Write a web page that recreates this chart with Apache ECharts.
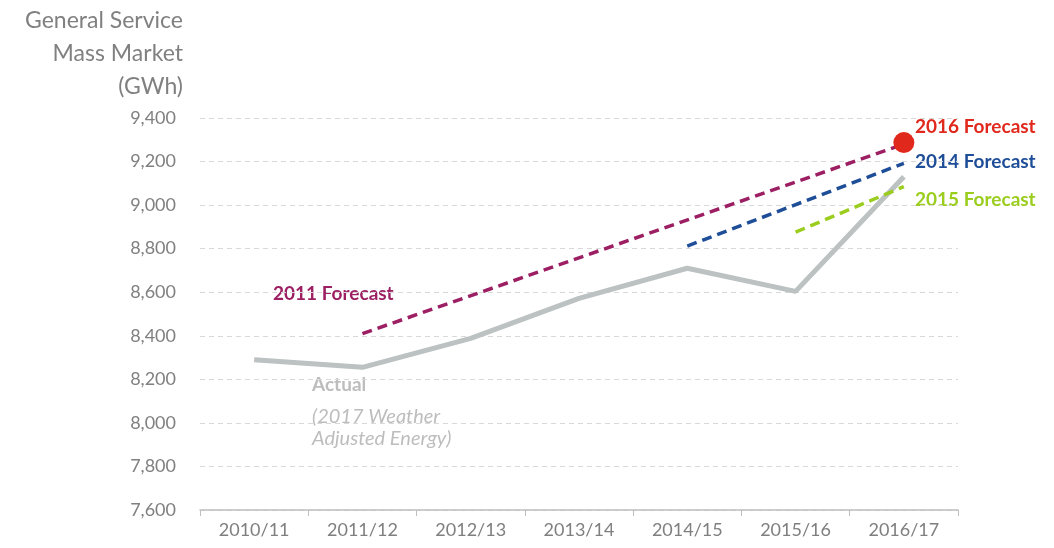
<!DOCTYPE html>
<html><head><meta charset="utf-8">
<script src="https://cdn.jsdelivr.net/npm/echarts@6/dist/echarts.min.js"></script>
<style>html,body{margin:0;padding:0;background:#fff}#c{width:1054px;height:548px}</style>
</head><body><div id="c"></div>
<script>
const categories = ['2010/11','2011/12','2012/13','2013/14','2014/15','2015/16','2016/17'];
const actual = [8290, 8255, 8388, 8572, 8710, 8604, 9130];
const forecast2011 = ['-', 8410, '-', '-', '-', '-', 9280];
const forecast2014 = ['-', '-', '-', '-', 8812, '-', 9192];
const forecast2015 = ['-', '-', '-', '-', '-', 8876, 9085];
const forecast2016 = ['-', '-', '-', '-', '-', '-', 9287];
const yTicks = {min: 7600, max: 9400, interval: 200};
const yTitle = ['General Service', 'Mass Market', '(GWh)'];

const FONT = 'Lato, "Open Sans", sans-serif';
const chart = echarts.init(document.getElementById('c'));
chart.setOption({
  animation: false,
  grid: {left: 200, right: 96, top: 118, bottom: 38},
  xAxis: {
    type: 'category', data: categories, boundaryGap: true,
    axisLine: {lineStyle: {color: '#bfbfbf', width: 1.5}},
    axisTick: {show: true, length: 6, lineStyle: {color: '#bfbfbf'}},
    axisLabel: {color: '#7f7f7f', fontSize: 18, fontFamily: FONT, margin: 11}
  },
  yAxis: {
    type: 'value', min: yTicks.min, max: yTicks.max, interval: yTicks.interval,
    axisLine: {show: false}, axisTick: {show: false},
    axisLabel: {color: '#808080', fontSize: 18, fontFamily: FONT, margin: 24,
      formatter: v => v.toLocaleString('en-US')},
    splitLine: {lineStyle: {color: '#d9d9d9', type: [5, 4], width: 1}}
  },
  series: [
    {type: 'line', data: actual, symbol: 'none', z: 2,
     lineStyle: {color: '#bcc1c1', width: 5}},
    {type: 'line', data: forecast2011, connectNulls: true, symbol: 'none', z: 3,
     lineStyle: {color: '#9c1f63', width: 3.5, type: [10, 6]}},
    {type: 'line', data: forecast2014, connectNulls: true, symbol: 'none', z: 3,
     lineStyle: {color: '#1f4e98', width: 3.5, type: [10, 6]}},
    {type: 'line', data: forecast2015, connectNulls: true, symbol: 'none', z: 3,
     lineStyle: {color: '#9acd1e', width: 3.5, type: [10, 6]}},
    {type: 'scatter', data: forecast2016, symbolSize: 21, z: 5,
     itemStyle: {color: '#e0281c', opacity: 1}}
  ],
  graphic: [
    {type: 'text', x: 183, y: 4, style: {
      text: yTitle.join('\n'), fill: '#808080', font: '23px ' + FONT,
      textAlign: 'right', align: 'right', lineHeight: 33}},
    {type: 'text', left: 915, top: 117, style: {text: '2016 Forecast', fill: '#e0281c', font: 'bold 19px ' + FONT}},
    {type: 'text', left: 915, top: 152, style: {text: '2014 Forecast', fill: '#1f4e98', font: 'bold 19px ' + FONT}},
    {type: 'text', left: 915, top: 190, style: {text: '2015 Forecast', fill: '#9acd1e', font: 'bold 19px ' + FONT}},
    {type: 'text', left: 273, top: 284, style: {text: '2011 Forecast', fill: '#9c1f63', font: 'bold 19px ' + FONT}},
    {type: 'text', left: 312, top: 375, style: {text: 'Actual', fill: '#bdbdbd', font: 'bold 19px ' + FONT}},
    {type: 'text', left: 312, top: 406, style: {text: '(2017 Weather\nAdjusted Energy)', fill: '#bdbdbd', font: 'italic 20px ' + FONT, lineHeight: 22}}
  ]
});
</script></body></html>
